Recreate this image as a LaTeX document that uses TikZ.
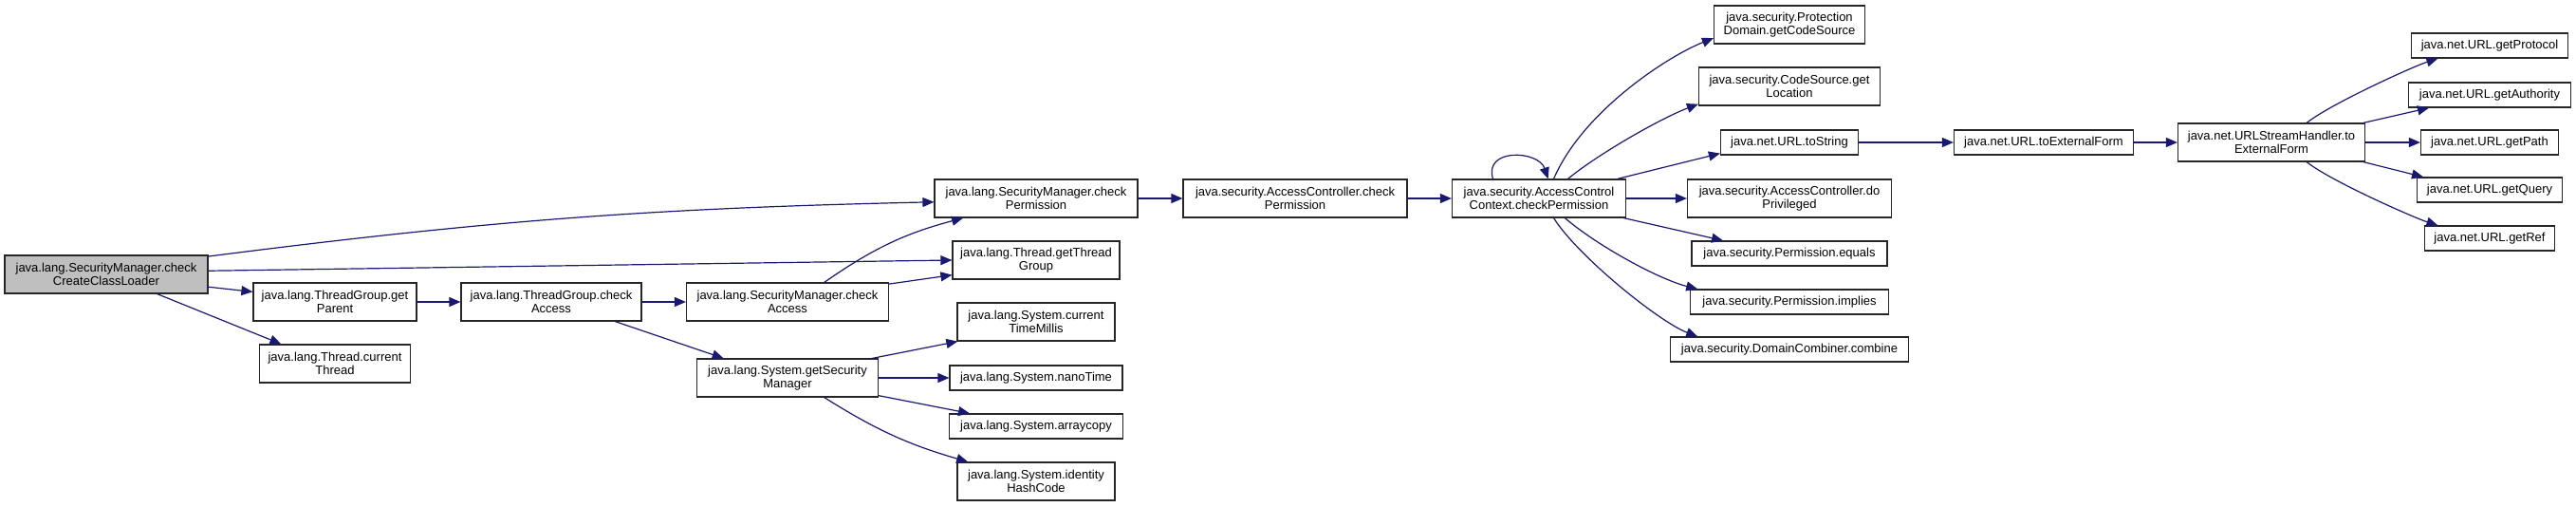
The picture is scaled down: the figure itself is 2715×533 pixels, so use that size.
\documentclass[tikz,border=0pt]{standalone}
\usepackage{fontspec}
\setmainfont{Liberation Sans}
\usetikzlibrary{arrows.meta,positioning}
\definecolor{edgeblue}{HTML}{191970}
\definecolor{rootgray}{HTML}{BFBFBF}

\begin{document}
\begin{tikzpicture}[
        x=1pt, y=-1pt,
        fn/.style={rectangle, draw=black!85, line width=1.2pt, fill=white, inner sep=0pt,
            minimum height=40pt, align=center, font=\fontsize{13}{14}\selectfont},
        fn1/.style={fn, minimum height=26pt},
        arr/.style={-{Triangle[length=12pt,width=10pt]}, line width=1.2pt, draw=edgeblue}
    ]
    \useasboundingbox (0,0) rectangle (2715,533);

    % caller
    \node[fn, fill=rootgray, minimum width=214pt] (root) at (112,289) {java.lang.SecurityManager.check\\CreateClassLoader};

    % java.lang
    \node[fn, minimum width=172pt] (getparent) at (353,318) {java.lang.ThreadGroup.get\\Parent};
    \node[fn, minimum width=159pt] (curthread) at (353,383) {java.lang.Thread.current\\Thread};
    \node[fn, minimum width=190pt] (tgca) at (581,318) {java.lang.ThreadGroup.check\\Access};
    \node[fn, minimum width=213pt] (smca) at (830,318) {java.lang.SecurityManager.check\\Access};
    \node[fn, minimum width=191pt] (getsm) at (830,398) {java.lang.System.getSecurity\\Manager};
    \node[fn, minimum width=214pt] (smperm) at (1092,209) {java.lang.SecurityManager.check\\Permission};
    \node[fn, minimum width=176pt] (tgroup) at (1092,274) {java.lang.Thread.getThread\\Group};
    \node[fn, minimum width=166pt] (ctm) at (1092,339) {java.lang.System.current\\TimeMillis};
    \node[fn1, minimum width=182pt] (nano) at (1092,398) {java.lang.System.nanoTime};
    \node[fn1, minimum width=183pt] (acopy) at (1092,449) {java.lang.System.arraycopy};
    \node[fn, minimum width=166pt] (ihash) at (1092,507) {java.lang.System.identity\\HashCode};

    % java.security
    \node[fn, minimum width=236pt] (acperm) at (1365,209) {java.security.AccessController.check\\Permission};
    \node[fn, minimum width=183pt] (acc) at (1622,209) {java.security.AccessControl\\Context.checkPermission};
    \node[fn, minimum width=159pt] (pd) at (1886,26) {java.security.Protection\\Domain.getCodeSource};
    \node[fn, minimum width=191pt] (cs) at (1886,91) {java.security.CodeSource.get\\Location};
    \node[fn1, minimum width=145pt] (tostr) at (1886,150) {java.net.URL.toString};
    \node[fn, minimum width=215pt] (dopriv) at (1886,209) {java.security.AccessController.do\\Privileged};
    \node[fn1, minimum width=206pt] (equals) at (1886,267) {java.security.Permission.equals};
    \node[fn1, minimum width=209pt] (implies) at (1886,318) {java.security.Permission.implies};
    \node[fn1, minimum width=251pt] (combine) at (1886,368) {java.security.DomainCombiner.combine};

    % java.net
    \node[fn1, minimum width=189pt] (extform) at (2154,150) {java.net.URL.toExternalForm};
    \node[fn, minimum width=197pt] (ush) at (2394,150) {java.net.URLStreamHandler.to\\ExternalForm};
    \node[fn1, minimum width=165pt] (proto) at (2624,48) {java.net.URL.getProtocol};
    \node[fn1, minimum width=171pt] (auth) at (2624,100) {java.net.URL.getAuthority};
    \node[fn1, minimum width=145pt] (path) at (2624,150) {java.net.URL.getPath};
    \node[fn1, minimum width=153pt] (query) at (2624,200) {java.net.URL.getQuery};
    \node[fn1, minimum width=137pt] (ref) at (2624,251) {java.net.URL.getRef};

    \draw[arr] (root.10) to[bend left=3] (smperm.182);
    \draw[arr] (root.2) -- (tgroup.west);
    \draw[arr] (root.-7) -- (getparent.173);
    \draw[arr] (root.-21) -- (curthread.160);
    \draw[arr] (getparent) -- (tgca);
    \draw[arr] (tgca) -- (smca);
    \draw[arr] (tgca.343) -- (getsm.163);
    \draw[arr] (smca.28) to[bend left=10] (smperm.195);
    \draw[arr] (smca.10) -- (tgroup.190);
    \draw[arr] (smperm) -- (acperm);
    \draw[arr] (acperm) -- (acc);
    \draw[arr] (getsm.13) -- (ctm.194);
    \draw[arr] (getsm) -- (nano);
    \draw[arr] (getsm.349) -- (acopy.169);
    \draw[arr] (getsm.332) to[bend right=8] (ihash.164);

    % AccessControlContext.checkPermission
    \draw[arr] (acc.157) .. controls +(-10,-33) and +(-10,-30) .. (acc.65);
    \draw[arr] (acc.53) .. controls +(30,-70) and +(-50,20) .. (pd.190);
    \draw[arr] (acc.34) .. controls +(30,-25) and +(-40,15) .. (cs.191);
    \draw[arr] (acc.14) -- (tostr.189);
    \draw[arr] (acc) -- (dopriv);
    \draw[arr] (acc.347) -- (equals.169);
    \draw[arr] (acc.323) .. controls +(35,30) and +(-40,-10) .. (implies.172);
    \draw[arr] (acc.307) .. controls +(25,40) and +(-40,-15) .. (combine.172);

    \draw[arr] (tostr) -- (extform);
    \draw[arr] (extform) -- (ush);
    \draw[arr] (ush.29) .. controls +(25,-20) and +(-25,8) .. (proto.194);
    \draw[arr] (ush.12) -- (auth.192);
    \draw[arr] (ush) -- (path);
    \draw[arr] (ush.348) -- (query.169);
    \draw[arr] (ush.331) .. controls +(25,20) and +(-25,-8) .. (ref.166);
\end{tikzpicture}
\end{document}
